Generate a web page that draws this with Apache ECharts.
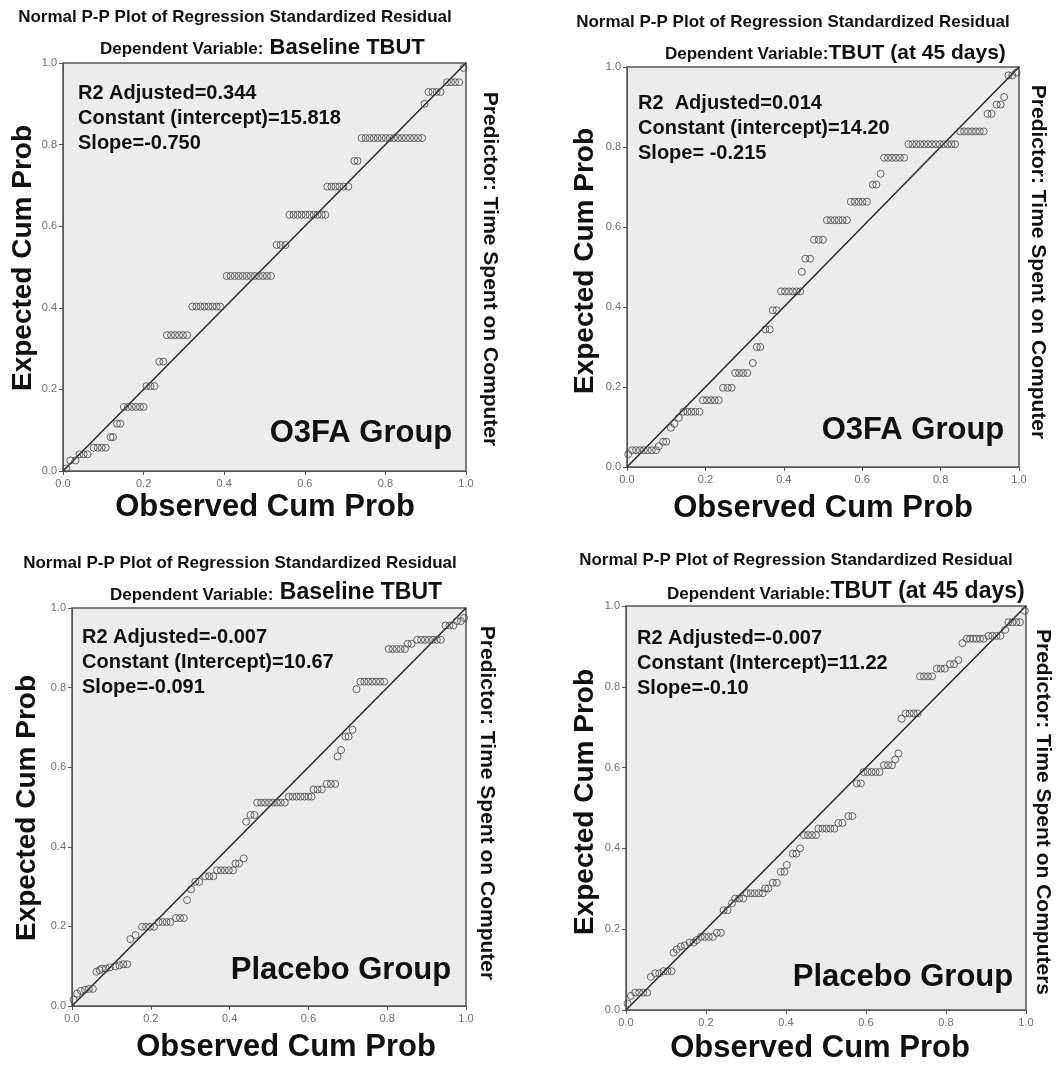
<!DOCTYPE html>
<html>
<head>
<meta charset="utf-8">
<style>
html,body{margin:0;padding:0;background:#fff;}
#chart{width:1062px;height:1067px;}
</style>
<script src="https://cdn.jsdelivr.net/npm/echarts@6/dist/echarts.min.js"></script>
</head>
<body>
<div id="chart"></div>
<script>
// ---------- DATA ----------
const axisTicks = [0, 0.2, 0.4, 0.6, 0.8, 1.0];
const refLine = [[0, 0], [1, 1]];

// O3FA group, Baseline TBUT  [observed cum prob, expected cum prob]
const o3faBaseline = [
  [0.008,0.006],
  [0.018,0.026],[0.031,0.026],
  [0.041,0.041],[0.051,0.041],[0.061,0.041],
  [0.076,0.057],[0.086,0.057],[0.096,0.057],[0.106,0.057],
  [0.118,0.083],[0.124,0.083],
  [0.134,0.116],[0.142,0.116],
  [0.151,0.157],[0.161,0.157],[0.171,0.157],[0.181,0.157],[0.191,0.157],[0.200,0.157],
  [0.207,0.208],[0.217,0.208],[0.227,0.208],
  [0.239,0.268],[0.249,0.268],
  [0.258,0.333],[0.268,0.333],[0.278,0.333],[0.288,0.333],[0.298,0.333],[0.308,0.333],
  [0.321,0.403],[0.331,0.403],[0.341,0.403],[0.351,0.403],[0.361,0.403],[0.371,0.403],[0.381,0.403],[0.390,0.403],
  [0.406,0.478],[0.416,0.478],[0.426,0.478],[0.436,0.478],[0.446,0.478],[0.456,0.478],[0.466,0.478],[0.476,0.478],[0.486,0.478],[0.496,0.478],[0.506,0.478],[0.516,0.478],
  [0.530,0.554],[0.540,0.554],[0.552,0.554],
  [0.562,0.628],[0.572,0.628],[0.582,0.628],[0.592,0.628],[0.602,0.628],[0.612,0.628],[0.622,0.628],[0.632,0.628],[0.642,0.628],[0.651,0.628],
  [0.656,0.697],[0.666,0.697],[0.676,0.697],[0.686,0.697],[0.696,0.697],[0.708,0.697],
  [0.723,0.760],[0.731,0.760],
  [0.741,0.816],[0.751,0.816],[0.761,0.816],[0.771,0.816],[0.781,0.816],[0.791,0.816],[0.801,0.816],[0.811,0.816],[0.821,0.816],[0.831,0.816],[0.841,0.816],[0.851,0.816],[0.861,0.816],[0.871,0.816],[0.881,0.816],[0.891,0.816],
  [0.897,0.900],
  [0.907,0.929],[0.917,0.929],[0.927,0.929],[0.937,0.929],
  [0.953,0.953],[0.963,0.953],[0.973,0.953],[0.983,0.953],
  [0.994,0.988]
];

// O3FA group, TBUT at 45 days
const o3fa45 = [
  [0.003,0.032],
  [0.013,0.042],[0.023,0.042],[0.033,0.042],[0.043,0.042],[0.053,0.042],[0.063,0.042],[0.074,0.042],
  [0.081,0.052],
  [0.092,0.063],[0.100,0.063],
  [0.112,0.098],
  [0.121,0.108],
  [0.132,0.123],
  [0.144,0.138],[0.154,0.138],[0.164,0.138],[0.174,0.138],[0.185,0.138],
  [0.194,0.167],[0.204,0.167],[0.214,0.167],[0.224,0.167],[0.234,0.167],
  [0.245,0.198],[0.257,0.198],[0.267,0.198],
  [0.276,0.235],[0.286,0.235],[0.296,0.235],[0.307,0.235],
  [0.321,0.260],
  [0.331,0.300],[0.340,0.300],
  [0.353,0.344],[0.364,0.344],
  [0.372,0.392],[0.382,0.392],
  [0.393,0.439],[0.403,0.439],[0.413,0.439],[0.423,0.439],[0.433,0.439],[0.442,0.439],
  [0.446,0.488],
  [0.455,0.521],[0.467,0.521],
  [0.477,0.568],[0.489,0.568],[0.500,0.568],
  [0.510,0.617],[0.520,0.617],[0.530,0.617],[0.540,0.617],[0.550,0.617],[0.561,0.617],
  [0.571,0.663],[0.581,0.663],[0.591,0.663],[0.601,0.663],[0.612,0.663],
  [0.627,0.706],[0.636,0.706],
  [0.647,0.733],
  [0.656,0.773],[0.666,0.773],[0.676,0.773],[0.686,0.773],[0.696,0.773],[0.707,0.773],
  [0.718,0.807],[0.728,0.807],[0.738,0.807],[0.748,0.807],[0.758,0.807],[0.768,0.807],[0.778,0.807],[0.788,0.807],[0.798,0.807],[0.808,0.807],[0.818,0.807],[0.828,0.807],[0.837,0.807],
  [0.850,0.839],[0.860,0.839],[0.870,0.839],[0.880,0.839],[0.890,0.839],[0.900,0.839],[0.910,0.839],
  [0.920,0.883],[0.930,0.883],
  [0.943,0.906],[0.953,0.906],
  [0.962,0.925],
  [0.973,0.979],[0.983,0.979],
  [0.994,0.986]
];

// Placebo group, Baseline TBUT
const placeboBaseline = [
  [0.004,0.016],
  [0.013,0.031],
  [0.023,0.038],[0.033,0.041],[0.043,0.043],[0.053,0.043],
  [0.062,0.086],[0.070,0.090],
  [0.076,0.094],[0.086,0.094],[0.096,0.097],
  [0.110,0.100],[0.120,0.102],[0.130,0.105],[0.140,0.105],
  [0.148,0.168],
  [0.161,0.178],
  [0.178,0.199],[0.188,0.199],[0.198,0.199],[0.208,0.199],
  [0.220,0.211],[0.230,0.211],[0.240,0.211],[0.250,0.211],
  [0.264,0.221],[0.274,0.221],[0.284,0.221],
  [0.292,0.266],
  [0.302,0.293],
  [0.313,0.312],[0.323,0.312],
  [0.338,0.326],[0.348,0.326],[0.359,0.326],
  [0.368,0.341],[0.378,0.341],[0.388,0.341],[0.398,0.341],[0.409,0.341],
  [0.415,0.358],[0.424,0.358],
  [0.436,0.371],
  [0.442,0.463],
  [0.453,0.480],[0.463,0.480],
  [0.470,0.511],[0.480,0.511],[0.490,0.511],[0.500,0.511],[0.510,0.511],[0.520,0.511],[0.530,0.511],[0.540,0.511],
  [0.550,0.526],[0.560,0.526],[0.570,0.526],[0.580,0.526],[0.590,0.526],[0.600,0.526],[0.608,0.526],
  [0.613,0.544],[0.623,0.544],[0.634,0.544],
  [0.647,0.558],[0.657,0.558],[0.668,0.558],
  [0.674,0.627],
  [0.683,0.643],
  [0.694,0.677],[0.702,0.677],
  [0.712,0.694],
  [0.722,0.796],
  [0.732,0.815],[0.742,0.815],[0.752,0.815],[0.762,0.815],[0.772,0.815],[0.782,0.815],[0.792,0.815],
  [0.804,0.897],[0.814,0.897],[0.824,0.897],[0.834,0.897],[0.845,0.897],
  [0.852,0.910],[0.862,0.910],
  [0.876,0.920],[0.886,0.920],[0.896,0.920],[0.906,0.920],[0.916,0.920],[0.926,0.920],[0.936,0.920],
  [0.948,0.956],[0.958,0.956],[0.968,0.956],
  [0.977,0.967],[0.987,0.967],
  [0.995,0.975]
];

// Placebo group, TBUT at 45 days
const placebo45 = [
  [0.004,0.016],
  [0.012,0.035],
  [0.023,0.043],[0.033,0.043],[0.043,0.043],[0.053,0.043],
  [0.062,0.082],
  [0.073,0.091],[0.083,0.091],
  [0.094,0.096],[0.104,0.096],[0.114,0.096],
  [0.119,0.142],[0.127,0.150],
  [0.137,0.157],[0.147,0.160],
  [0.159,0.167],[0.169,0.167],
  [0.177,0.173],
  [0.187,0.181],[0.197,0.181],[0.207,0.181],[0.217,0.181],
  [0.227,0.191],[0.237,0.191],
  [0.244,0.247],[0.254,0.247],
  [0.265,0.264],
  [0.273,0.276],[0.283,0.276],[0.293,0.276],
  [0.302,0.289],[0.312,0.289],[0.322,0.289],[0.332,0.289],[0.342,0.289],
  [0.348,0.301],[0.356,0.301],
  [0.367,0.315],[0.377,0.315],
  [0.387,0.342],[0.396,0.342],
  [0.402,0.359],
  [0.417,0.387],[0.426,0.387],[0.435,0.400],
  [0.445,0.433],[0.455,0.433],[0.465,0.433],[0.475,0.433],
  [0.481,0.449],[0.491,0.449],[0.501,0.449],[0.511,0.449],[0.521,0.449],
  [0.531,0.463],[0.541,0.463],
  [0.556,0.480],[0.566,0.480],
  [0.577,0.561],[0.587,0.561],
  [0.594,0.589],[0.604,0.589],[0.614,0.589],[0.624,0.589],[0.634,0.589],
  [0.645,0.606],[0.655,0.606],[0.665,0.606],
  [0.673,0.620],
  [0.681,0.635],
  [0.689,0.721],
  [0.699,0.734],[0.709,0.734],[0.719,0.734],[0.729,0.734],
  [0.735,0.826],[0.745,0.826],[0.755,0.826],[0.765,0.826],
  [0.777,0.845],[0.787,0.845],[0.797,0.845],
  [0.810,0.856],[0.820,0.856],
  [0.831,0.866],
  [0.841,0.908],
  [0.852,0.919],[0.860,0.919],[0.868,0.919],[0.876,0.919],[0.885,0.919],[0.894,0.919],
  [0.906,0.926],[0.916,0.926],[0.926,0.926],[0.936,0.926],
  [0.948,0.941],
  [0.956,0.960],[0.966,0.960],[0.976,0.960],[0.985,0.960],
  [0.997,0.988]
];

const titleText = 'Normal P-P Plot of Regression Standardized Residual';
const depLabel = 'Dependent Variable:';
const depVars = ['Baseline TBUT', 'TBUT (at 45 days)', 'Baseline TBUT', 'TBUT (at 45 days)'];
const predictors = ['Predictor: Time Spent on Computer', 'Predictor: Time Spent on Computer',
                    'Predictor: Time Spent on Computer', 'Predictor: Time Spent on Computers'];
const groups = ['O3FA Group', 'O3FA Group', 'Placebo Group', 'Placebo Group'];
const statLines = [
  ['R2 Adjusted=0.344', 'Constant (intercept)=15.818', 'Slope=-0.750'],
  ['R2  Adjusted=0.014', 'Constant (intercept)=14.20', 'Slope= -0.215'],
  ['R2 Adjusted=-0.007', 'Constant (Intercept)=10.67', 'Slope=-0.091'],
  ['R2 Adjusted=-0.007', 'Constant (Intercept)=11.22', 'Slope=-0.10']
];
const xName = 'Observed Cum Prob';
const yName = 'Expected Cum Prob';
const panelData = [o3faBaseline, o3fa45, placeboBaseline, placebo45];

// ---------- LAYOUT ----------
const FONT = '"Liberation Sans", Arial, sans-serif';
const layout = [
  { grid:{left:63,top:63,width:403,height:408}, title:[235,17], dep:[100,48], depSize:22,
    stats:[78,93], group:[361,433], ylab:[23,258], xlab:[265,507], pred:[490,269] },
  { grid:{left:627,top:67,width:392,height:400}, title:[793,22], dep:[665,53], depSize:21,
    stats:[638,103], group:[913,430], ylab:[585,261], xlab:[823,508], pred:[1038,262] },
  { grid:{left:72,top:608,width:394,height:398}, title:[240,563], dep:[110,593], depSize:23,
    stats:[82,637], group:[341,970], ylab:[27,808], xlab:[286,1047], pred:[487,803] },
  { grid:{left:626,top:606,width:400,height:404}, title:[796,560], dep:[667,592], depSize:23,
    stats:[637,638], group:[903,977], ylab:[585,802], xlab:[820,1048], pred:[1043,812] }
];

const grids = [], xAxes = [], yAxes = [], series = [], graphics = [];
function axisCommon(margin) {
  return {
    min: axisTicks[0], max: axisTicks[axisTicks.length - 1],
    interval: axisTicks[1] - axisTicks[0],
    axisLine: { show: true, lineStyle: { color: '#555', width: 1 } },
    axisTick: { show: true, inside: false, length: 4, lineStyle: { color: '#555' } },
    splitLine: { show: false },
    axisLabel: { fontFamily: FONT, fontSize: 11, color: '#6e6e6e', margin: margin,
                 formatter: v => v.toFixed(1) }
  };
}
layout.forEach((L, i) => {
  grids.push(Object.assign({ show: true, backgroundColor: '#ececec', borderColor: '#555', borderWidth: 1.5 }, L.grid));
  xAxes.push(Object.assign({ type: 'value', gridIndex: i }, axisCommon(7)));
  yAxes.push(Object.assign({ type: 'value', gridIndex: i }, axisCommon(6)));
  series.push({
    type: 'line', xAxisIndex: i, yAxisIndex: i, data: refLine, showSymbol: false,
    lineStyle: { color: '#2a2a2a', width: 1.5 }, silent: true, z: 2
  });
  series.push({
    type: 'scatter', xAxisIndex: i, yAxisIndex: i, data: panelData[i],
    symbol: 'circle', symbolSize: 7,
    itemStyle: { color: 'rgba(0,0,0,0)', borderColor: '#444', borderWidth: 1 }, z: 3
  });
  const txt = (x, y, text, size, opts) => graphics.push(Object.assign({
    type: 'text', x: x, y: y, z: 100,
    style: Object.assign({ text: text, fontFamily: FONT, fontWeight: 'bold', fontSize: size,
      fill: '#111', align: 'center', verticalAlign: 'middle' }, (opts && opts.style) || {})
  }, (opts && opts.el) || {}));
  txt(L.title[0], L.title[1], titleText, 17);
  graphics.push({
    type: 'text', x: L.dep[0], y: L.dep[1], z: 100,
    style: {
      text: '{a|' + depLabel + '}{b|' + (i % 2 ? '' : ' ') + depVars[i] + '}',
      align: 'left', verticalAlign: 'middle', fill: '#111',
      rich: {
        a: { fontFamily: FONT, fontWeight: 'bold', fontSize: 17, fill: '#111', verticalAlign: 'bottom', padding: [0,0,1,0] },
        b: { fontFamily: FONT, fontWeight: 'bold', fontSize: L.depSize, fill: '#111', verticalAlign: 'bottom' }
      }
    }
  });
  statLines[i].forEach((s, k) => txt(L.stats[0], L.stats[1] + k * 25, s, 20, { style: { align: 'left' } }));
  txt(L.group[0], L.group[1], groups[i], 31);
  txt(L.ylab[0], L.ylab[1], yName, 28, { el: { rotation: Math.PI / 2 } });
  txt(L.xlab[0], L.xlab[1], xName, 31);
  txt(L.pred[0], L.pred[1], predictors[i], 21, { el: { rotation: -Math.PI / 2 } });
});

const chart = echarts.init(document.getElementById('chart'), null, { renderer: 'canvas' });
chart.setOption({
  animation: false,
  backgroundColor: '#ffffff',
  grid: grids, xAxis: xAxes, yAxis: yAxes, series: series, graphic: graphics
});
</script>
</body>
</html>
